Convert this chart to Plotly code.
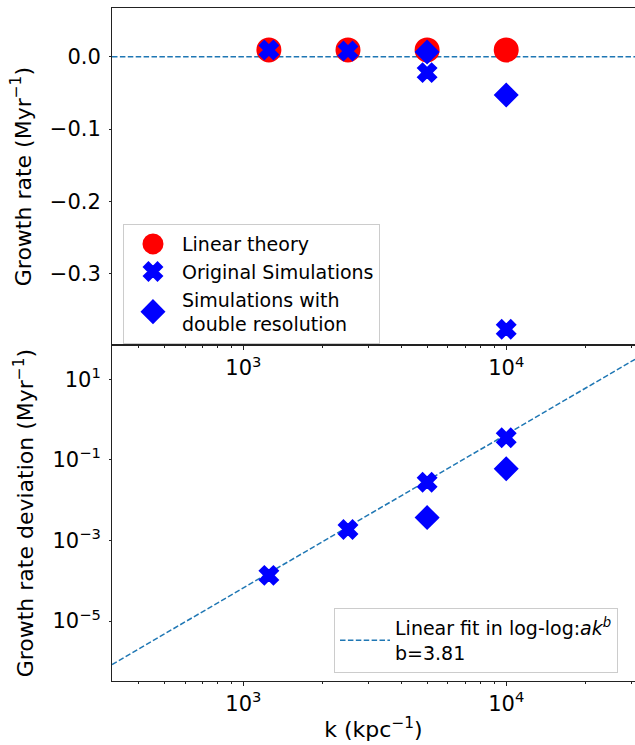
import plotly.graph_objects as go

# ---- data ----
k_all = [1250, 2500, 5000, 10000]
theory_rate = [0.0094, 0.0094, 0.0094, 0.0094]
orig_rate = [0.0093, 0.0078, -0.022, -0.377]
k_double = [5000, 10000]
double_rate = [0.0065, -0.053]

orig_dev = [1.36e-4, 1.88e-3, 0.028, 0.356]
double_dev = [3.7e-3, 0.0605]

fit_log10_a = -15.607
fit_b = 3.81

x_log_range = [2.5, 4.49]
k_fit = [10 ** x_log_range[0], 10 ** x_log_range[1]]
dev_fit = [10 ** fit_log10_a * k ** fit_b for k in k_fit]

FONT = "DejaVu Sans"
BLUE = "#0000ff"
RED = "#ff0000"
C0 = "#1f77b4"

circle_mk = dict(symbol="circle", size=20, color=RED, line=dict(color=RED, width=5))
x_mk = dict(symbol="x", size=16, color=BLUE, line=dict(color=BLUE, width=2))
dia_mk = dict(symbol="diamond", size=16, color=BLUE, line=dict(color=BLUE, width=3))

fig = go.Figure()

# top panel
fig.add_trace(go.Scatter(x=k_all, y=theory_rate, mode="markers", name="Linear theory",
                         marker=circle_mk, xaxis="x", yaxis="y", legend="legend"))
fig.add_trace(go.Scatter(x=k_all, y=orig_rate, mode="markers", name="Original Simulations",
                         marker=x_mk, xaxis="x", yaxis="y", legend="legend"))
fig.add_trace(go.Scatter(x=k_double, y=double_rate, mode="markers",
                         name="Simulations with<br>double resolution",
                         marker=dia_mk, xaxis="x", yaxis="y", legend="legend"))

# bottom panel
fig.add_trace(go.Scatter(x=k_fit, y=dev_fit, mode="lines",
                         name="Linear fit in log-log:<i>ak</i><sup><i>b</i></sup><br>b=3.81",
                         line=dict(color=C0, width=1.5, dash="5.5px,2.4px"),
                         xaxis="x2", yaxis="y2", legend="legend2"))
fig.add_trace(go.Scatter(x=k_all, y=orig_dev, mode="markers", showlegend=False,
                         marker=x_mk, xaxis="x2", yaxis="y2"))
fig.add_trace(go.Scatter(x=k_double, y=double_dev, mode="markers", showlegend=False,
                         marker=dia_mk, xaxis="x2", yaxis="y2"))

fig.add_shape(type="line", xref="x domain", yref="y", x0=0, x1=1, y0=0, y1=0,
              line=dict(color=C0, width=1.5, dash="5.5px,2.4px"), layer="below")

minor_vals = [m * 10 ** e for e in (2, 3, 4) for m in range(2, 10)]
xticks = [1000, 10000]
xtext = ["10<sup>3</sup>", "10<sup>4</sup>"]

axis_common = dict(showline=True, linecolor="#222222", linewidth=1, ticks="outside",
                   tickcolor="#222222", tickwidth=1, showgrid=False, zeroline=False,
                   tickfont=dict(family=FONT, size=21, color="black"))

xaxis_common = dict(axis_common, type="log", range=x_log_range, tickvals=xticks, ticktext=xtext,
                    ticklen=4, mirror=True,
                    minor=dict(tickvals=minor_vals, ticks="outside", ticklen=2, tickcolor="#222222",
                               showgrid=False))

TITLE_FONT = dict(family=FONT, size=22, color="black")

fig.update_layout(
    width=635, height=745,
    margin=dict(l=112, r=0, t=8, b=64),
    paper_bgcolor="white", plot_bgcolor="white",
    font=dict(family=FONT, color="black"),
    xaxis=dict(xaxis_common, domain=[0, 1], anchor="y"),
    xaxis2=dict(xaxis_common, domain=[0, 1], anchor="y2", matches="x",
                title=dict(text="k (kpc<sup>−1</sup>)", font=TITLE_FONT, standoff=6)),
    yaxis=dict(axis_common, domain=[0.499, 1], anchor="x", range=[-0.399, 0.0674],
               tickvals=[0, -0.1, -0.2, -0.3], ticktext=["0.0", "−0.1", "−0.2", "−0.3"],
               ticklen=2, ticklabelstandoff=4,
               title=dict(text="Growth rate (Myr<sup>−1</sup>)", font=TITLE_FONT, standoff=12)),
    yaxis2=dict(axis_common, domain=[0, 0.499], anchor="x2", type="log", range=[-6.49, 1.85],
                tickvals=[10, 0.1, 1e-3, 1e-5],
                ticktext=["10<sup>1</sup>", "10<sup>−1</sup>", "10<sup>−3</sup>", "10<sup>−5</sup>"],
                ticklen=2, ticklabelstandoff=4,
                title=dict(text="Growth rate deviation (Myr<sup>−1</sup>)", font=TITLE_FONT, standoff=12)),
    legend=dict(x=0.021, y=0.679, xanchor="left", yanchor="top",
                bgcolor="rgba(255,255,255,0.8)", bordercolor="#cccccc", borderwidth=1,
                font=dict(family=FONT, size=19, color="black"), tracegroupgap=0,
                itemwidth=48),
    legend2=dict(x=0.4245, y=0.1085, xanchor="left", yanchor="top",
                 bgcolor="rgba(255,255,255,0.8)", bordercolor="#cccccc", borderwidth=1,
                 font=dict(family=FONT, size=19, color="black"), itemwidth=50),
    showlegend=True,
)

fig.write_html("out.html")
